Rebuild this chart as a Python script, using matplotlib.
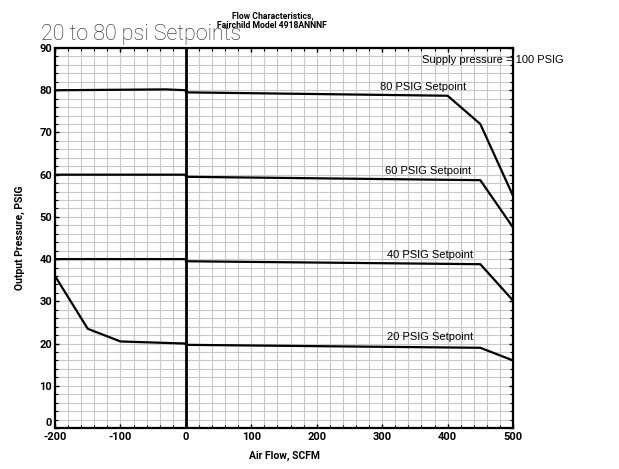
import matplotlib.pyplot as plt
from matplotlib.ticker import MultipleLocator

# --- Données ---
flow_80 = [-200, -30, 0, 0, 400, 450, 500]
psi_80 = [80.0, 80.2, 80.0, 79.5, 78.7, 72.0, 55.0]

flow_60 = [-200, 0, 0, 450, 500]
psi_60 = [60.0, 60.0, 59.5, 58.7, 47.5]

flow_40 = [-200, 0, 0, 450, 500]
psi_40 = [40.0, 40.0, 39.5, 38.8, 30.2]

flow_20 = [-200, -150, -100, 0, 0, 450, 500]
psi_20 = [36.0, 23.5, 20.5, 20.0, 19.7, 19.0, 16.0]

series = [(flow_80, psi_80), (flow_60, psi_60), (flow_40, psi_40), (flow_20, psi_20)]

labels = ["80 PSIG Setpoint", "60 PSIG Setpoint", "40 PSIG Setpoint", "20 PSIG Setpoint"]
label_x = [297, 304, 308, 308]
label_y = [80.8, 60.8, 41.0, 21.6]

x_ticks = [-200, -100, 0, 100, 200, 300, 400, 500]
y_ticks = [0, 10, 20, 30, 40, 50, 60, 70, 80, 90]

narrow = ['Roboto', 'DejaVu Sans']
plt.rcParams['font.family'] = ['Liberation Sans', 'DejaVu Sans']
plt.rcParams['axes.unicode_minus'] = False

fig = plt.figure(figsize=(6.19, 4.69), dpi=100)
ax = fig.add_axes([0.0889, 0.0874, 0.7399, 0.8102])

ax.set_xlim(-200, 500)
ax.set_ylim(0, 90)
ax.set_xticks(x_ticks)
ax.set_yticks(y_ticks)
ax.xaxis.set_minor_locator(MultipleLocator(20))
ax.yaxis.set_minor_locator(MultipleLocator(2))
ax.grid(which='both', color='#c8c8c8', linewidth=0.8)
ax.set_axisbelow(True)
ax.tick_params(which='major', direction='in', top=True, right=True, length=3, width=1, pad=2)
ax.tick_params(axis='x', which='major', pad=3)
ax.tick_params(which='minor', direction='in', top=True, right=True, length=2, width=0.8)
for lbl in ax.get_xticklabels() + ax.get_yticklabels():
    lbl.set_fontweight('bold')
    lbl.set_fontsize(8)
    lbl.set_family(narrow)
ax.get_yticklabels()[0].set_va('bottom')
for s in ax.spines.values():
    s.set_linewidth(1.6)

ax.axvline(0, color='black', linewidth=2)

for fx, py in series:
    ax.plot(fx, py, color='black', linewidth=1.6)

for txt, tx, ty in zip(labels, label_x, label_y):
    ax.text(tx, ty, txt, fontsize=8, va='center', ha='left')

ax.text(361, 87.2, "Supply pressure = 100 PSIG", fontsize=8, va='center', ha='left')

ax.set_xlabel("Air Flow, SCFM", fontsize=7.5, fontweight='bold', family=narrow, labelpad=6)
ax.set_ylabel("Output Pressure, PSIG", fontsize=7.5, fontweight='bold', family=narrow, labelpad=10)

fig.text(0.44, 0.975, "Flow Characteristics,\nFairchild Model 4918ANNNF", fontsize=6.2,
         fontweight='bold', ha='center', va='top', family=narrow, linespacing=1.1)
fig.text(0.066, 0.904, "20 to 80 psi Setpoints", fontsize=15.5, ha='left', va='bottom',
         family=narrow, fontweight='light', color='#222222')

fig.savefig("out.png", dpi=100)
